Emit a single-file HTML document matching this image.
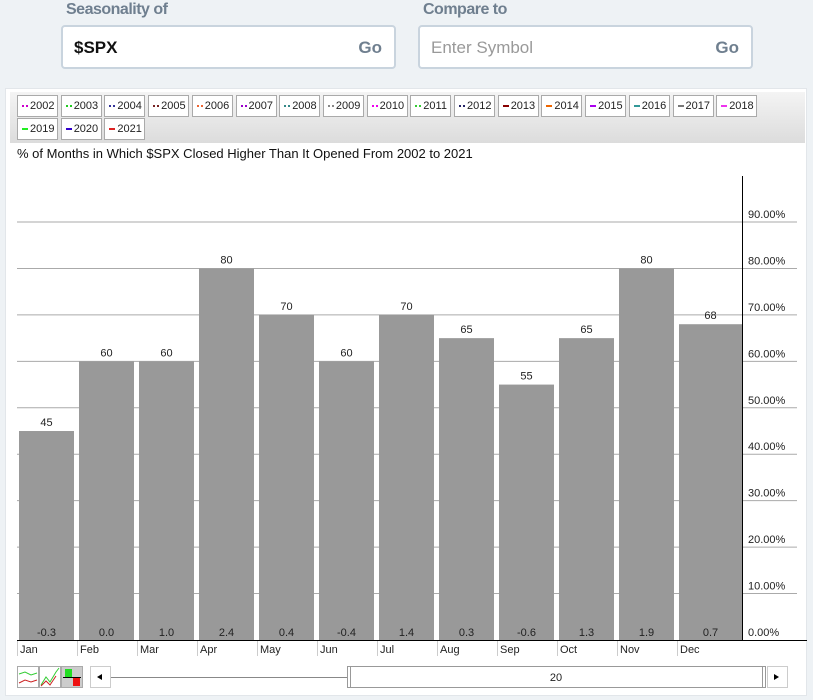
<!DOCTYPE html>
<html><head><meta charset="utf-8"><style>
*{box-sizing:border-box;margin:0;padding:0}
body{width:813px;height:698px;background:#eef2f5;font-family:"Liberation Sans",sans-serif;position:relative;overflow:hidden}
.lbl{position:absolute;top:1px;font-size:16px;font-weight:bold;color:#6f7f8f;letter-spacing:-0.5px}
.inp{position:absolute;top:25px;height:44px;background:#fff;border:2px solid #c9d4de;border-radius:4px}
.inp span{position:absolute;top:11px;font-size:17px}
.go{right:12px;color:#6f7f8f;font-weight:bold}
#panel{position:absolute;left:5px;top:88px;width:802px;height:608px;background:#fff;border:1px solid #e2e6ea}
#leg{position:absolute;left:10px;top:92px;width:795px;height:51px;background:linear-gradient(#f4f4f4,#dcdcdc)}
.li{position:absolute;height:22px;border:1px solid #aaa;background:#fff;font-size:11px;line-height:20px;padding-left:4px;color:#222}
.li i{display:inline-block;width:6px;height:2px;margin-right:2px;vertical-align:middle}
#title{position:absolute;left:17px;top:146px;font-size:13px;color:#111}
svg text{font-family:"Liberation Sans",sans-serif}
</style></head><body>
<div class="lbl" style="left:66px">Seasonality of</div>
<div class="lbl" style="left:423px">Compare to</div>
<div class="inp" style="left:61px;width:335px"><span style="left:11px;font-weight:bold;color:#111">$SPX</span><span class="go">Go</span></div>
<div class="inp" style="left:418px;width:335px"><span style="left:11px;color:#999">Enter Symbol</span><span class="go">Go</span></div>
<div id="panel"></div>
<div id="leg"></div>
<div id="title">% of Months in Which $SPX Closed Higher Than It Opened From 2002 to 2021</div>
<svg id="chart" width="813" height="698" style="position:absolute;left:0;top:0"></svg>
<script>
const months=["Jan","Feb","Mar","Apr","May","Jun","Jul","Aug","Sep","Oct","Nov","Dec"];
const pctHigher=[45,60,60,80,70,60,70,65,55,65,80,68];
const avgChange=["-0.3","0.0","1.0","2.4","0.4","-0.4","1.4","0.3","-0.6","1.3","1.9","0.7"];
const yTicks=[0,10,20,30,40,50,60,70,80,90];
const years=["2002","2003","2004","2005","2006","2007","2008","2009","2010","2011","2012","2013","2014","2015","2016","2017","2018","2019","2020","2021"];
const yearColors=["#c0c","#2c2","#339","#722","#e63","#90c","#388","#888","#e0e","#3c3","#226","#800","#e60","#a0e","#399","#777","#e3e","#2e2","#30c","#d22"];
const NS="http://www.w3.org/2000/svg";
const svg=document.getElementById('chart');
const x0=17,pxPer=4.644,yB=640,axisX=742;
const slot=60,barW=55,barStart=19;
const y=v=>yB-v*pxPer;
const bxF=i=>barStart+i*slot;
function el(t,a,p){const e=document.createElementNS(NS,t);for(const k in a)e.setAttribute(k,a[k]);(p||svg).appendChild(e);return e;}
yTicks.forEach(v=>{
  if(v>0){const g=el('line',{x1:x0,x2:797,y1:y(v),y2:y(v),stroke:'#aaa','stroke-width':1});
  
  }
  const t=el('text',{x:748,y:y(v)-4,'font-size':11,fill:'#222'});t.textContent=v.toFixed(2)+'%';
  
  
});
pctHigher.forEach((v,i)=>{
  const bx=bxF(i),bw=(i===pctHigher.length-1)?(axisX-bx):barW;
  const r=el('rect',{x:bx,y:y(v),width:bw,height:yB-y(v),fill:'#999'});
  
  
  const t=el('text',{x:bx+bw/2,y:y(v)-5,'font-size':11,'text-anchor':'middle',fill:'#222'});t.textContent=v;
  
  
  const a=el('text',{x:bx+bw/2,y:yB-4,'font-size':11,'text-anchor':'middle',fill:'#222'});a.textContent=avgChange[i];
  
  
  const tx=Math.round(bx-2)+0.5;
  const tk=el('line',{x1:tx,x2:tx,y1:yB,y2:656,stroke:'#ccc'});
  
  
  const m=el('text',{x:tx+2.5,y:653,'font-size':11,fill:'#222'});m.textContent=months[i];
  
  
});
const ax=el('line',{x1:x0,x2:807,y1:yB+0.5,y2:yB+0.5,stroke:'#000'});


const ay=el('line',{x1:742.5,x2:742.5,y1:176,y2:yB,stroke:'#000'});


const leg=document.getElementById('leg');
years.forEach((yr,i)=>{
  const row=i<17?0:1,col=i<17?i:i-17;
  const d=document.createElement('div');
  d.className='li';
  
  
  d.style.left=(7+col*43.7)+'px';d.style.top=(3+row*23)+'px';d.style.width='41px';
  const c=yearColors[i];
  d.innerHTML='<i style="background:'+(i<11?'repeating-linear-gradient(90deg,'+c+' 0 2px,transparent 2px 4px)':c)+'"></i>'+yr;
  leg.appendChild(d);
});
</script>
<svg width="813" height="40" style="position:absolute;left:0;top:660px">
<rect x="17.5" y="6.5" width="21" height="21" fill="#fff" stroke="#aaa"/>
<polyline points="19,14 25,12 31,15 37,13" fill="none" stroke="#3c3"/><polyline points="19,23 25,20 31,22 37,20" fill="none" stroke="#c22"/>
<rect x="39.5" y="6.5" width="21" height="21" fill="#fff" stroke="#aaa"/>
<polyline points="41,25 46,17 50,22 56,12 59,8" fill="none" stroke="#3c3"/><polyline points="41,26 46,21 50,25 56,16" fill="none" stroke="#c22"/>
<rect x="61.5" y="6.5" width="21" height="21" fill="#ccc" stroke="#aaa"/>
<rect x="65" y="9" width="7" height="8" fill="#2d2"/><rect x="73" y="18" width="7" height="8" fill="#e11"/><line x1="63" x2="81" y1="17.5" y2="17.5" stroke="#000"/>
<rect x="90.5" y="6.5" width="20" height="21" fill="#fff" stroke="#ccc"/>
<path d="M97,17 L102,14 L102,20Z" fill="#000"/>
<line x1="111" x2="347" y1="17.5" y2="17.5" stroke="#888"/>
<rect x="347.5" y="6.5" width="418" height="21" fill="#fff" stroke="#999"/>
<line x1="350.5" x2="350.5" y1="7" y2="27" stroke="#999"/><line x1="762.5" x2="762.5" y1="7" y2="27" stroke="#999"/>
<text x="556" y="21" font-size="11" text-anchor="middle" fill="#222" font-family="Liberation Sans">20</text>
<rect x="767.5" y="6.5" width="20" height="21" fill="#fff" stroke="#ccc"/>
<path d="M779,17 L774,14 L774,20Z" fill="#000"/>
</svg>
</body></html>
